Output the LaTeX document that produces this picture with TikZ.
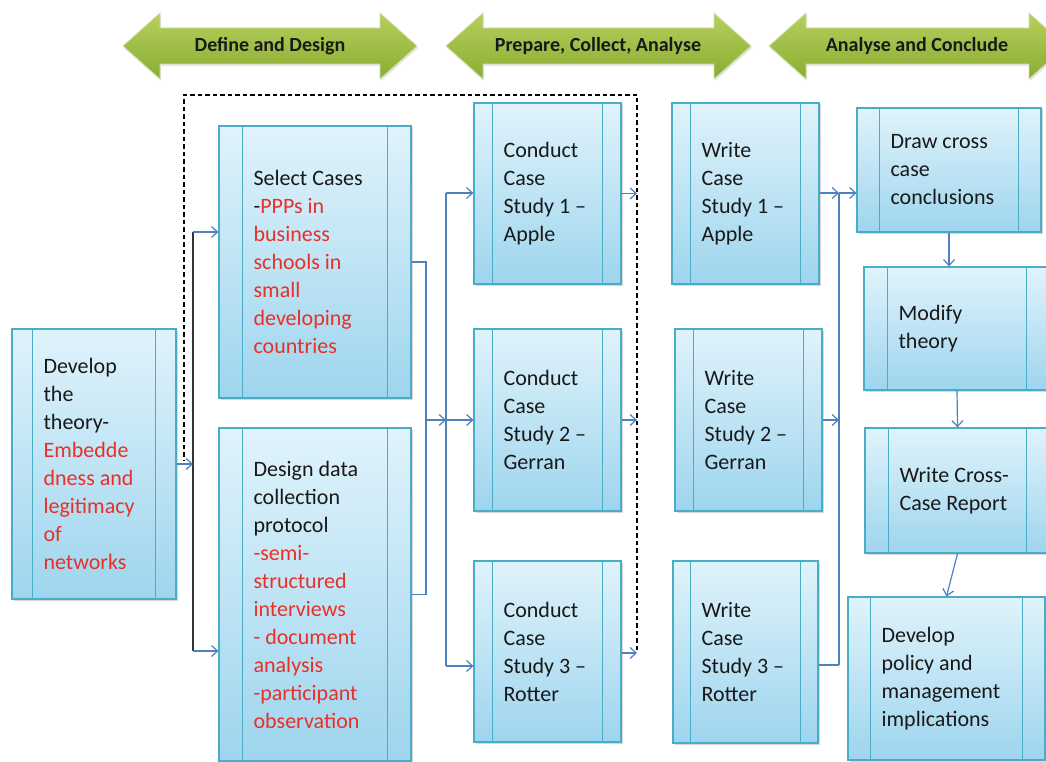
\documentclass[tikz,border=0pt]{standalone}
\usepackage{fontspec}
\setmainfont{Carlito}
\usetikzlibrary{arrows.meta,shadows}
\definecolor{boxline}{RGB}{75,172,198}
\definecolor{boxtop}{RGB}{224,243,251}
\definecolor{boxbot}{RGB}{158,213,238}
\definecolor{connc}{RGB}{79,129,189}
\definecolor{redt}{RGB}{232,48,40}
\definecolor{gtop}{RGB}{182,208,92}
\definecolor{gbot}{RGB}{138,172,50}
\definecolor{txtc}{RGB}{25,25,25}
\newcommand\rd[1]{\textcolor{redt}{#1}}
\tikzset{
 pboxs/.style={draw=boxline, line width=1.2pt, top color=boxtop, bottom color=boxbot, inner sep=0pt,
   drop shadow={shadow xshift=1.5pt, shadow yshift=-1.5pt, opacity=0.3}},
 barline/.style={draw=boxline, line width=1.2pt},
 txt/.style={font=\fontsize{22}{28}\selectfont, text=txtc, align=left, inner sep=0pt},
 arr/.style={draw=connc, line width=1.2pt, -{Straight Barb[length=6pt,width=11pt]}},
 cline/.style={draw=connc, line width=1.2pt},
 blk/.style={draw=black!80, line width=1.5pt},
 dsh/.style={draw=black, line width=1.5pt, dash pattern=on 4.5pt off 3pt},
 garrow/.style={top color=gtop, bottom color=gbot, draw=white!60!gbot, line width=0.8pt,
   drop shadow={shadow xshift=1pt, shadow yshift=-2pt, opacity=0.2}},
 gtxt/.style={font=\fontsize{20}{22}\selectfont\bfseries, text=txtc, inner sep=0pt},
}
\newcommand\procbox[7]{%
 \node[pboxs, minimum width={(#4)-(#2)}, minimum height={(#5)-(#3)}] (#1) at ({((#2)+(#4))/2},{((#3)+(#5))/2}) {};
 \draw[barline] ([xshift=#6]#1.north west) -- ([xshift=#6]#1.south west)
   ([xshift=-#6]#1.north east) -- ([xshift=-#6]#1.south east);
 \node[txt, anchor=west] (#1t) at ([xshift=#6+11]#1.west) {#7};
}
\newcommand\grarrow[6]{% name, xl, xr, yc, textx, text
 \path[garrow] (#2,#4) -- ({#2+37},{#4-33}) -- ({#2+37},{#4-18}) -- ({#3-37},{#4-18}) -- ({#3-37},{#4-33})
   -- (#3,#4) -- ({#3-37},{#4+33}) -- ({#3-37},{#4+18}) -- ({#2+37},{#4+18}) -- ({#2+37},{#4+33}) -- cycle;
 \node[gtxt] (#1) at (#5,#4) {#6};
}
\begin{document}
\begin{tikzpicture}[x=1pt,y=-1pt]
\useasboundingbox (0,0) rectangle (1046,762);
\clip (0,0) rectangle (1046,762);
\fill[white] (0,0) rectangle (1046,762);

% phase arrows
\grarrow{ph1}{123}{417}{46}{270}{Define and Design}
\grarrow{ph2}{446}{751}{46}{598}{Prepare, Collect, Analyse}
\grarrow{ph3}{769}{1066}{46}{917}{Analyse and Conclude}

% boxes
\procbox{dev}{12}{329}{176}{599}{21}{Develop\\the\\theory-\\\rd{Embedde}\\\rd{dness and}\\\rd{legitimacy}\\\rd{of}\\\rd{networks}}
\procbox{sel}{219}{126}{411}{398}{24}{Select Cases\\-\rd{PPPs in}\\\rd{business}\\\rd{schools in}\\\rd{small}\\\rd{developing}\\\rd{countries}}
\procbox{des}{219}{428}{411}{761}{24}{Design data\\collection\\protocol\\\rd{-semi-}\\\rd{structured}\\\rd{interviews}\\\rd{- document}\\\rd{analysis}\\\rd{-participant}\\\rd{observation}}
\procbox{c1}{474}{103}{621}{284}{19}{Conduct\\Case\\Study 1 –\\Apple}
\procbox{c2}{474}{329}{621}{511}{19}{Conduct\\Case\\Study 2 –\\Gerran}
\procbox{c3}{474}{561}{621}{742}{19}{Conduct\\Case\\Study 3 –\\Rotter}
\procbox{w1}{672}{103}{819}{284}{19}{Write\\Case\\Study 1 –\\Apple}
\procbox{w2}{675}{329}{822}{511}{19}{Write\\Case\\Study 2 –\\Gerran}
\procbox{w3}{673}{561}{818}{743}{18}{Write\\Case\\Study 3 –\\Rotter}
\procbox{dc}{857}{108}{1041}{232}{23}{Draw cross\\case\\conclusions}
\procbox{mod}{864}{267}{1050}{390}{24}{Modify\\theory}
\procbox{wcr}{865}{428}{1050}{553}{24}{Write Cross-\\Case Report}
\procbox{pol}{848}{597}{1045}{760}{23}{Develop\\policy and\\management\\implications}

% left part
\coordinate (jA) at (193,232);
\coordinate (jB) at (193,651);
\coordinate (jE) at (193,464);
\coordinate (d1) at (637,650);
\coordinate (d2) at (637,95);
\coordinate (d3) at (184,95);
\coordinate (d4) at (184,461);
\draw[dsh] (d1) -- (d2) -- (d3) -- (d4);
\draw[blk] (jA) -- (jB);
\draw[arr] (dev.east) -- (jE);
\draw[arr] (jA) -- (jA -| sel.west);
\draw[arr] (jB) -- (jB -| des.west);

% to conduct
\coordinate (jC) at (426,420);
\coordinate (jD) at (446,420);
\coordinate (jT) at (446,193);
\coordinate (jU) at (446,666);
\draw[cline] (sel.east) -| (jC) |- (des.east);
\draw[arr] (jC) -- (jD);
\draw[cline] (jT) -- (jU);
\draw[arr] (jT) -- (jT -| c1.west);
\draw[arr] (jD) -- (jD -| c2.west);
\draw[arr] (jU) -- (jU -| c3.west);

% conduct to dashed
\coordinate (k3) at (637,653);
\draw[arr] (c1.east) -- (c1.east -| d1);
\draw[arr] (c2.east) -- (c2.east -| d1);
\draw[arr] (k3 -| c3.east) -- (k3);

% write column
\coordinate (wT) at (839,193);
\coordinate (wB) at (839,665);
\draw[cline] (wT) -- (wB);
\draw[arr] (w1.east |- wT) -- (wT);
\draw[arr] (wT) -- (wT -| dc.west);
\draw[arr] (w2.east) -- (w2.east -| wT);
\draw[cline] (wB -| w3.east) -- (wB);

% right column
\draw[arr] (dc.south) -- (dc.south |- mod.north);
\draw[arr] (mod.south) -- (wcr.north);
\draw[arr] (wcr.south) -- (pol.north);
\end{tikzpicture}
\end{document}
